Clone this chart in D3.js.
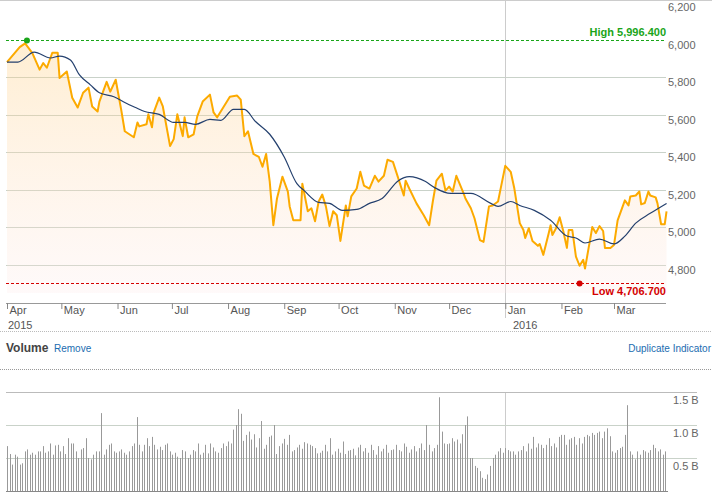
<!DOCTYPE html>
<html><head><meta charset="utf-8">
<script src="https://cdn.jsdelivr.net/npm/d3@7"></script>
<style>
body{margin:0;background:#fff;font-family:"Liberation Sans",Arial,sans-serif}
</style></head><body><div id="chart"></div>
<script>
// price: day offset from 2015-04-01 and close value
var priceDay = [0,7,10,14,18,20,22,25,28,29,33,36,39,42,45,47,50,51,55,57,60,61,63,65,70,72,73,77,78,80,81,84,86,90,92,94,97,98,100,103,105,108,112,114,116,123,127,129,131,133,136,139,141,143,145,147,149,152,155,156,158,162,163,166,168,170,172,174,176,178,180,182,184,187,188,190,193,195,197,200,203,205,208,210,213,216,219,220,222,226,227,230,233,235,237,240,242,244,246,248,252,253,256,258,261,263,266,268,271,273,275,278,280,283,285,286,288,290,293,294,296,299,300,301,303,305,307,309,310,312,314,316,318,319,321,322,323,325,327,329,330,333,335,337,339,341,343,344,347,349,350,352,354,355,358,359,361,363,364];
var priceVal = [5880,5960,5980,5928,5840,5875,5850,5930,5930,5796,5830,5690,5638,5717,5744,5644,5617,5670,5775,5723,5786,5733,5628,5512,5480,5559,5538,5549,5602,5533,5612,5691,5644,5433,5470,5602,5486,5586,5480,5496,5591,5670,5707,5612,5586,5696,5702,5680,5486,5512,5391,5375,5323,5391,5244,5012,5154,5270,5191,5112,5038,5038,5233,5086,5102,5033,5138,5175,5112,5007,5086,5065,4928,5117,5059,5165,5207,5296,5223,5207,5275,5244,5275,5360,5349,5260,5170,5249,5207,5128,5112,5065,5012,5138,5249,5286,5196,5217,5191,5275,5181,5154,5102,5049,4933,4923,5112,5117,5138,5233,5328,5296,5207,5023,4986,4944,4996,4928,4902,4912,4854,4970,5012,4960,4996,5054,4981,4891,4986,4986,4844,4796,4828,4781,4891,4944,5002,4970,5007,4981,4891,4891,4907,5038,5091,5144,5117,5165,5170,5191,5123,5130,5191,5170,5160,5128,5017,5017,5086];
// moving average
var maDay = [0,6,15,24,29,35,40,46,51,59,65,71,76,84,92,98,104,112,118,125,131,137,145,153,160,164,172,178,185,193,200,207,216,222,231,236,245,256,267,271,278,283,291,300,309,314,319,327,335,341,347,355,364];
var maVal = [5880,5880,5933,5902,5912,5891,5812,5759,5717,5696,5665,5638,5617,5602,5559,5559,5549,5575,5570,5628,5628,5565,5496,5375,5233,5196,5133,5128,5091,5096,5128,5154,5249,5270,5244,5212,5181,5181,5128,5112,5138,5117,5091,5038,4954,4944,4917,4938,4912,4954,5023,5075,5128];
// daily volume, billions
var volume = [.68,.56,.4,.55,.52,.4,.42,.6,.63,.55, .58,.55,.6,.6,.68,.58,.6,.72,.55,.69,
 .7,.6,.68,.56,.8,.72,.72,.6,.5,.63, .65,.8,.5,.48,.55,.6,.6,1.18,.55,.63,
 .7,.72,.6,.58,.6,.63,.58,.55,.6,.68, .72,1.12,.7,.6,.7,.8,.68,.82,.7,.63,
 .67,.62,.7,.72,.6,.55,.58,.52,.5,.62, .6,.5,.55,.62,.6,.72,.55,.58,.7,.57,
 .72,.66,.6,.58,.65,.72,.68,.75,.72,.93, 1.0,1.24,1.17,.76,.85,.9,.78,.86,.66,.8,
 1.06,.64,.7,.82,.84,1.0,.56,.68,.72,.79, .7,.85,.6,.62,.66,.7,.64,.74,.72,.7,
 .68,.65,.57,.58,.61,.7,.6,.8,.55,.6, .64,.58,.75,.56,.61,.62,.64,.54,.66,.7,
 .6,.65,.58,.7,.62,.55,.68,.6,.64,.7,.58,.62,
 .63,.7,.62,.6,.72,.67,.58,.63,.68,.6, .65,.72,.62,1.0,.7,.6,.65,.7,1.42,.9,
 .72,.71,.72,.8,.75,.78,.72,.86,1.0,1.13, .5,.5,.38,.35,.3,.2,.18,.25,.38,.5,
 .55,.6,.65,.58,.65,.62,.6,.6,.55,.6, .62,.68,.6,.72,.64,.82,.66,.72,.7,.65,
 .7,.8,.68,.72,.66,.82,.85,.85,.7,.78, .8,.82,.7,.8,.72,.82,.85,.83,.88,.85,
 .88,.9,.8,.9,.95,.83,.6,.58,.62,.65, .67,.85,1.3,.6,.55,.48,.6,.55,.62,.6,
 .58,.62,.7,.65,.6,.63,.55,.6];
var priceTicks = [4800,5000,5200,5400,5600,5800,6000,6200];
var volTicks = [0.5,1.0,1.5];
var high = {day: 11, value: 5996.4}, low = {day: 316, value: 4706.7};

var W = 712, H = 495, left = 6, right = 666;
var start = new Date(2015, 3, 1);
var toDate = function(d) { return d3.timeDay.offset(start, d); };

var svg = d3.select("#chart").append("svg").attr("width", W).attr("height", H)
    .style("font-family", '"Liberation Sans",Arial,sans-serif');

var x = d3.scaleTime().domain([start, new Date(2016, 2, 1)]).range([7, 614]);
var y = d3.scaleLinear().domain([4800, 6200]).range([265, 2]);

// grid
svg.append("line").attr("x1", 0).attr("x2", W).attr("y1", 0.5).attr("y2", 0.5).attr("stroke", "#ccc");
svg.selectAll(".pg").data(priceTicks.slice(0, 6)).enter().append("line")
    .attr("x1", left).attr("x2", right).attr("y1", d => Math.round(y(d)) + 0.5).attr("y2", d => Math.round(y(d)) + 0.5)
    .attr("stroke", "#c9d2c9");
svg.selectAll(".pl").data(priceTicks).enter().append("text")
    .attr("x", 668).attr("y", d => y(d) + 9).text(d => d3.format(",")(d))
    .style("font-size", "11px").style("fill", "#666");

// Jan divider
var jan = Math.round(x(new Date(2016, 0, 1))) + 0.5;
svg.append("line").attr("x1", jan).attr("x2", jan).attr("y1", 0).attr("y2", 318).attr("stroke", "#ccc");
svg.append("line").attr("x1", jan).attr("x2", jan).attr("y1", 392).attr("y2", 491).attr("stroke", "#ccc");

// area + lines
var defs = svg.append("defs");
var g = defs.append("linearGradient").attr("id", "fill").attr("x1", 0).attr("x2", 0).attr("y1", 0).attr("y2", 1);
g.append("stop").attr("offset", "0%").attr("stop-color", "#ffcf80").attr("stop-opacity", 0.35);
g.append("stop").attr("offset", "100%").attr("stop-color", "#fde8e8").attr("stop-opacity", 0.25);
var pts = priceDay.map((d, i) => [toDate(d), priceVal[i]]);
svg.append("path").datum(pts)
    .attr("d", d3.area().x(d => x(d[0])).y0(y(4800) + 28).y1(d => y(d[1])))
    .attr("fill", "url(#fill)");
svg.append("path").datum(pts)
    .attr("d", d3.line().x(d => x(d[0])).y(d => y(d[1])))
    .attr("fill", "none").attr("stroke", "#fcaa00").attr("stroke-width", 2).attr("stroke-linejoin", "round");
svg.append("path").datum(maDay.map((d, i) => [toDate(d), maVal[i]]))
    .attr("d", d3.line().curve(d3.curveMonotoneX).x(d => x(d[0])).y(d => y(d[1])))
    .attr("fill", "none").attr("stroke", "#24406e").attr("stroke-width", 1.2);

// high / low
[[high, "#1aa51a", "High 5,996.400", -5], [low, "#d40000", "Low 4,706.700", 11]].forEach(function(h) {
    var yy = Math.round(y(h[0].value)) + 0.5;
    svg.append("line").attr("x1", left).attr("x2", right).attr("y1", yy).attr("y2", yy)
        .attr("stroke", h[1]).attr("stroke-dasharray", "3,2");
    svg.append("circle").attr("cx", x(toDate(h[0].day))).attr("cy", yy).attr("r", 3).attr("fill", h[1]);
    svg.append("text").attr("x", 666).attr("y", yy + h[3]).attr("text-anchor", "end").text(h[2])
        .style("font-size", "11px").style("font-weight", "bold").style("fill", h[1]);
});

// time axis
svg.append("line").attr("x1", left).attr("x2", right).attr("y1", 303.5).attr("y2", 303.5).attr("stroke", "#999");
var ax = svg.append("g").attr("transform", "translate(0,303)")
    .call(d3.axisBottom(x).ticks(d3.timeMonth.every(1)).tickFormat(d3.timeFormat("%b")).tickSize(6));
ax.select(".domain").remove();
ax.selectAll("line").attr("stroke", "#888");
ax.selectAll("text").attr("text-anchor", "start").attr("dx", 2).attr("y", 3).style("font-size", "11px").style("fill", "#555")
    .style("font-family", '"Liberation Sans",Arial,sans-serif');
svg.append("text").attr("x", 8).attr("y", 329).text("2015").style("font-size", "11px").style("fill", "#555");
svg.append("text").attr("x", 513).attr("y", 329).text("2016").style("font-size", "11px").style("fill", "#555");
svg.append("line").attr("x1", 0).attr("x2", W).attr("y1", 331.5).attr("y2", 331.5).attr("stroke", "#bbb").attr("stroke-dasharray", "1,1");

// volume panel
svg.append("text").attr("x", 6).attr("y", 352).text("Volume").style("font-size", "12px").style("font-weight", "bold").style("fill", "#444");
svg.append("text").attr("x", 54).attr("y", 352).text("Remove").style("font-size", "10px").style("fill", "#1a6cb0");
svg.append("text").attr("x", 711).attr("y", 352).attr("text-anchor", "end").text("Duplicate Indicator").style("font-size", "10px").style("fill", "#1a6cb0");
svg.append("line").attr("x1", 0).attr("x2", W).attr("y1", 369.5).attr("y2", 369.5).attr("stroke", "#999").attr("stroke-dasharray", "1,1");

var vy = d3.scaleLinear().domain([0, 1.5]).range([491, 392]);
var vx = d3.scaleBand().domain(d3.range(volume.length)).range([7, 668]);
svg.selectAll(".vg").data(volTicks).enter().append("line")
    .attr("x1", left).attr("x2", 697).attr("y1", d => Math.round(vy(d)) + 0.5).attr("y2", d => Math.round(vy(d)) + 0.5)
    .attr("stroke", d => d == 1.5 ? "#bbb" : "#c9d2c9");
svg.selectAll(".vl").data(volTicks).enter().append("text")
    .attr("x", 673).attr("y", d => vy(d) + 12).text(d => d3.format(".1f")(d) + " B")
    .style("font-size", "11px").style("fill", "#666");
svg.selectAll(".vb").data(volume).enter().append("line")
    .attr("x1", (d, i) => Math.round(vx(i)) + 0.5).attr("x2", (d, i) => Math.round(vx(i)) + 0.5)
    .attr("y1", 491).attr("y2", d => vy(d)).attr("stroke", "#999");
svg.append("line").attr("x1", left).attr("x2", 668).attr("y1", 491.5).attr("y2", 491.5).attr("stroke", "#888");
</script></body></html>
